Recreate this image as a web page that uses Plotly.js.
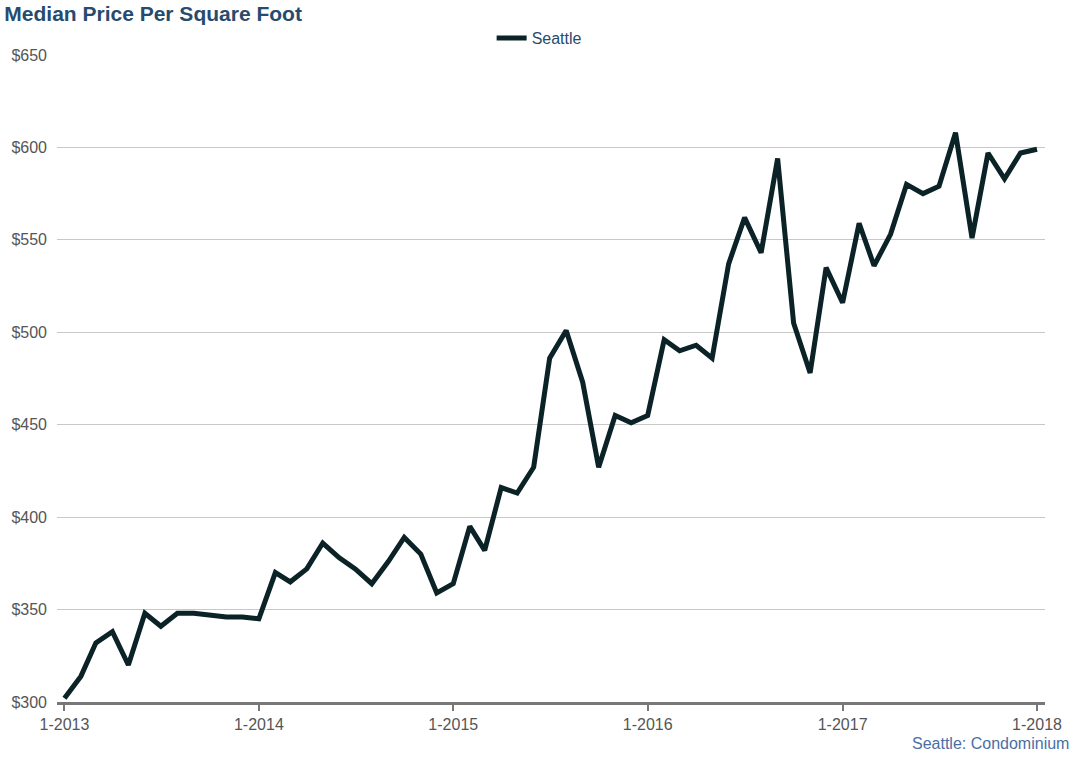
<!DOCTYPE html>
<html>
<head>
<meta charset="utf-8">
<script src="https://cdn.plot.ly/plotly-3.0.1.min.js"></script>
<style>html,body{margin:0;padding:0;background:#fff;}#chart{width:1076px;height:757px;}</style>
</head>
<body>
<div id="chart"></div>
<script>
// Monthly median price per square foot, Seattle condominium, Jan 2013 - Jan 2018
const startYear = 2013;
const seriesName = "Seattle";
const prices = [
  302, 314, 332, 338, 320, 348, 341, 348, 348, 347, 346, 346,
  345, 370, 365, 372, 386, 378, 372, 364, 376, 389, 380, 359,
  364, 395, 382, 416, 413, 427, 486, 501, 473, 427, 455, 451,
  455, 496, 490, 493, 486, 537, 562, 543, 594, 505, 478, 535,
  516, 559, 536, 553, 580, 575, 579, 608, 551, 597, 583, 597,
  599
];
const tickDates = ["2013-01-01","2014-01-01","2015-01-01","2016-01-01","2017-01-01","2018-01-01"];
const tickLabels = ["1-2013","1-2014","1-2015","1-2016","1-2017","1-2018"];
const yTicks = [300, 350, 400, 450, 500, 550, 600, 650];
const yTickLabels = ["$300","$350","$400","$450","$500","$550","$600","$650"];

const dates = prices.map((_, i) => {
  const y = startYear + Math.floor(i / 12);
  const m = (i % 12) + 1;
  return y + "-" + String(m).padStart(2, "0") + "-01";
});

const FONT = "Liberation Sans, Arial, Helvetica, sans-serif";

const trace = {
  x: dates,
  y: prices,
  type: "scatter",
  mode: "lines",
  name: seriesName,
  line: {color: "#0b2226", width: 5},
  hoverinfo: "x+y"
};

const layout = {
  width: 1076,
  height: 757,
  margin: {l: 57, r: 31, t: 55, b: 55},
  paper_bgcolor: "#fff",
  plot_bgcolor: "#fff",
  font: {family: FONT, size: 16, color: "#555"},
  title: {
    text: "<b>Median Price Per Square Foot</b>",
    font: {family: FONT, size: 21, color: "#274b6d"},
    xref: "container", yref: "container",
    x: 0.004, xanchor: "left",
    y: 1 - 14 / 757, yanchor: "middle"
  },
  showlegend: true,
  legend: {
    orientation: "h",
    x: 0.488, xanchor: "center",
    y: 1 + 17 / 647, yanchor: "middle",
    font: {family: FONT, size: 16, color: "#274b6d"},
    bgcolor: "rgba(0,0,0,0)"
  },
  xaxis: {
    type: "date",
    range: ["2012-12-18", "2018-01-16"],
    tickvals: tickDates,
    ticktext: tickLabels,
    showgrid: false,
    zeroline: false,
    showline: true,
    linecolor: "#777",
    linewidth: 3,
    ticks: "outside",
    ticklen: 6,
    tickwidth: 2,
    tickcolor: "#777",
    tickfont: {family: FONT, size: 16, color: "#555"},
    fixedrange: true
  },
  yaxis: {
    range: [300, 650],
    tickvals: yTicks,
    ticktext: yTickLabels,
    showgrid: true,
    gridcolor: "#c8c8c8",
    gridwidth: 1,
    zeroline: false,
    showline: false,
    ticks: "",
    ticklabelstandoff: 9,
    tickfont: {family: FONT, size: 16, color: "#555"},
    fixedrange: true
  },
  annotations: [{
    text: "Seattle: Condominium",
    xref: "paper", yref: "paper",
    x: (1071 - 57) / 988, xanchor: "right",
    y: -(743 - 702) / 647, yanchor: "middle",
    showarrow: false,
    font: {family: FONT, size: 16, color: "#4a6fa5"}
  }]
};

Plotly.newPlot("chart", [trace], layout, {displayModeBar: false, responsive: false});
</script>
</body>
</html>
